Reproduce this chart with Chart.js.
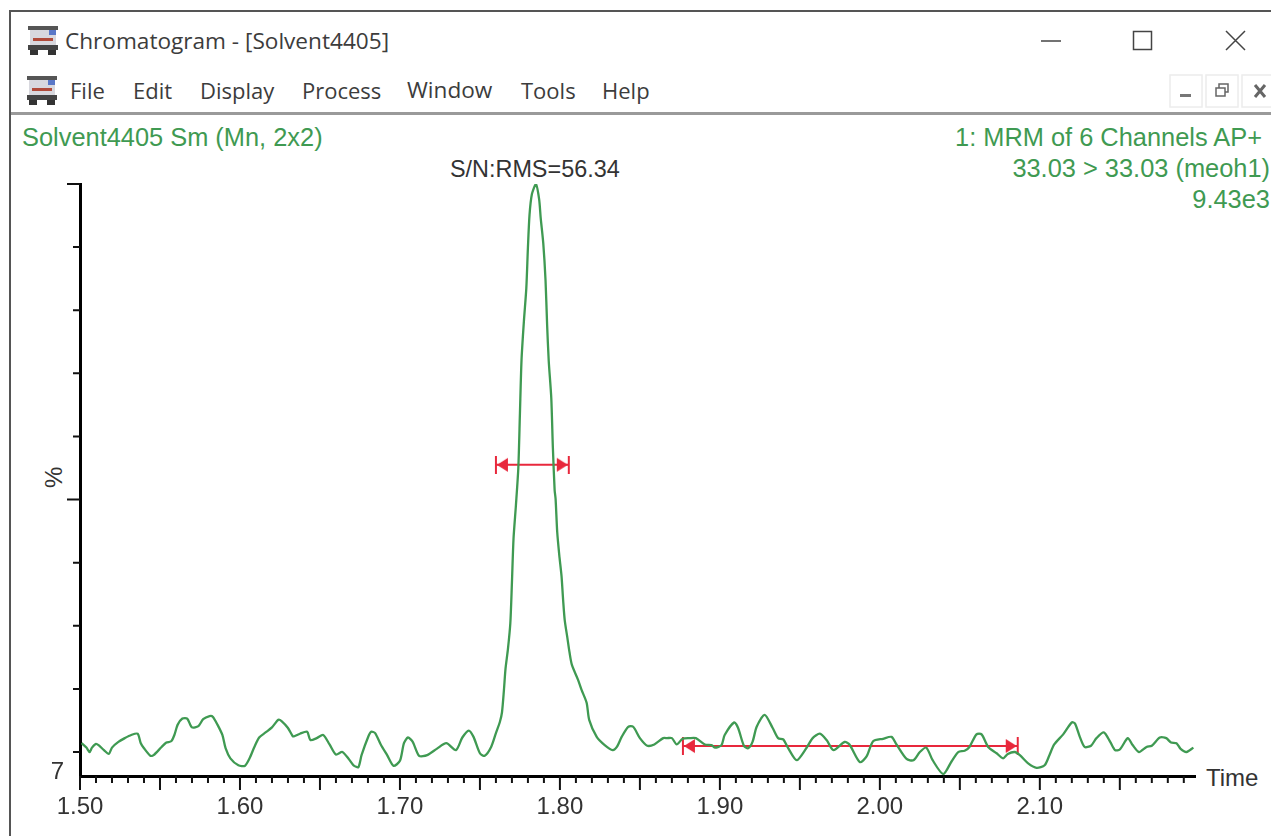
<!DOCTYPE html>
<html lang="en">
<head>
    <meta charset="UTF-8">
    <title>Chromatogram - [Solvent4405]</title>
    <style>
        html, body { margin: 0; padding: 0; background: #fff; }
        body { width: 1271px; height: 836px; position: relative; overflow: hidden; }
        #chart { position: absolute; left: 0; top: 0; }
        .line { position: absolute; }
        .txt { position: absolute; white-space: nowrap; line-height: 1; }
        .win { font-family: "Open Sans", sans-serif; color: #3c3c3c; }
        .plot { font-family: "Liberation Sans", Arial, sans-serif; font-size: 24px; }
        .head { font-size: 25.4px; }
        .green { color: #3f9a52; }
        .dark { color: #333; }
        svg { position: absolute; }
    </style>
</head>
<body>
    <div class="line" style="left:9px;top:10px;width:1262px;height:2px;background:#555"></div>
    <div class="line" style="left:9px;top:10px;width:2px;height:826px;background:#555"></div>
    <div class="line" style="left:11px;top:112px;width:1260px;height:3px;background:#9a9a9a"></div>

    <svg style="left:27px;top:25px" width="32" height="32" viewBox="0 0 32 32">
        <rect x="1" y="1" width="30" height="4" fill="#555"/>
        <rect x="3" y="5" width="26" height="15" fill="#d8d8de"/>
        <rect x="22" y="5" width="7" height="5" fill="#5a78c8"/>
        <rect x="6" y="13" width="20" height="3" fill="#b04a3a"/>
        <rect x="1" y="20" width="30" height="5" fill="#444"/>
        <rect x="3" y="25" width="8" height="5" fill="#333"/>
        <rect x="21" y="25" width="8" height="5" fill="#333"/>
    </svg>
    <svg style="left:26px;top:75px" width="32" height="32" viewBox="0 0 32 32">
        <rect x="1" y="1" width="30" height="4" fill="#555"/>
        <rect x="3" y="5" width="26" height="15" fill="#d8d8de"/>
        <rect x="22" y="5" width="7" height="5" fill="#5a78c8"/>
        <rect x="6" y="13" width="20" height="3" fill="#b04a3a"/>
        <rect x="1" y="20" width="30" height="5" fill="#444"/>
        <rect x="3" y="25" width="8" height="5" fill="#333"/>
        <rect x="21" y="25" width="8" height="5" fill="#333"/>
    </svg>

    <div class="txt win" style="left:65px;top:30px;font-size:22.6px">Chromatogram - [Solvent4405]</div>
    <div class="txt win" style="left:70px;top:79px;font-size:22px">File</div>
    <div class="txt win" style="left:133px;top:79px;font-size:22px">Edit</div>
    <div class="txt win" style="left:200px;top:79px;font-size:22px">Display</div>
    <div class="txt win" style="left:302px;top:79px;font-size:22px">Process</div>
    <div class="txt win" style="left:407px;top:79px;font-size:22.6px">Window</div>
    <div class="txt win" style="left:521px;top:79px;font-size:22px">Tools</div>
    <div class="txt win" style="left:602px;top:79px;font-size:22px">Help</div>

    <!-- window buttons -->
    <svg style="left:1030px;top:25px" width="230" height="32">
        <line x1="11" y1="16" x2="31" y2="16" stroke="#444" stroke-width="1.5"/>
        <rect x="103.5" y="6.5" width="18" height="18" fill="none" stroke="#444" stroke-width="1.5"/>
        <path d="M196 6 L215 25 M215 6 L196 25" stroke="#444" stroke-width="1.5"/>
    </svg>
    <svg style="left:1168px;top:74px" width="103" height="34">
        <g fill="none" stroke="#ececec" stroke-width="1.5">
            <rect x="2" y="1" width="32" height="32"/>
            <rect x="38" y="1" width="32" height="32"/>
            <rect x="74" y="1" width="32" height="32"/>
        </g>
        <rect x="12" y="20" width="11" height="3" fill="#777"/>
        <g fill="none" stroke="#666" stroke-width="1.5">
            <rect x="48" y="14" width="9" height="8"/>
            <path d="M51 14 V10 H60 V18 H57"/>
        </g>
        <path d="M87 11 L97 23 M97 11 L87 23" stroke="#666" stroke-width="3"/>
    </svg>

    <div class="txt plot head green" style="left:22px;top:125px">Solvent4405 Sm (Mn, 2x2)</div>
    <div class="txt plot head green" style="right:9px;top:125px">1: MRM of 6 Channels AP+</div>
    <div class="txt plot head green" style="right:1px;top:156px">33.03 &gt; 33.03 (meoh1)</div>
    <div class="txt plot head green" style="right:1px;top:187px">9.43e3</div>
    <div class="txt plot dark" style="left:450px;top:158px;font-size:23.4px">S/N:RMS=56.34</div>
    <div class="txt plot dark" style="left:42px;top:466px;transform-origin:0 0;transform:rotate(-90deg) translate(-22px,0)">%</div>
    <div class="txt plot dark" style="left:1206px;top:766px">Time</div>

    <canvas id="chart" width="1271" height="836"></canvas>

<script src="https://cdn.jsdelivr.net/npm/chart.js@4/dist/chart.umd.min.js"></script>
<script>
    // trace: retention time (min), intensity (%)
    const times = [
        1.501, 1.504, 1.506, 1.5075, 1.510, 1.512, 1.515, 1.518, 1.520, 1.524, 1.528, 1.532, 1.536, 1.538, 1.540, 1.544,
        1.546, 1.551, 1.554, 1.557, 1.559, 1.561, 1.564, 1.567, 1.570, 1.574, 1.577, 1.581, 1.583, 1.586, 1.589, 1.591,
        1.594, 1.599, 1.603, 1.606, 1.609, 1.612, 1.616, 1.620, 1.624, 1.626, 1.630, 1.633, 1.634, 1.6375, 1.642, 1.644,
        1.648, 1.652, 1.656, 1.660, 1.664, 1.668, 1.671, 1.674, 1.676, 1.680, 1.682, 1.6845, 1.688, 1.692, 1.696, 1.700,
        1.7025, 1.705, 1.708, 1.712, 1.717, 1.723, 1.729, 1.735, 1.739, 1.743, 1.746, 1.750, 1.753, 1.757, 1.760, 1.7625,
        1.7638, 1.765, 1.766, 1.7675, 1.769, 1.770, 1.771, 1.7725, 1.774, 1.775, 1.776, 1.7775, 1.779, 1.780, 1.781, 1.7825,
        1.785, 1.787, 1.788, 1.7896, 1.791, 1.792, 1.793, 1.7946, 1.7956, 1.7967, 1.7973, 1.7983, 1.7996, 1.801, 1.802, 1.803, 1.8046,
        1.806, 1.8075, 1.8114, 1.8136, 1.8167, 1.8183, 1.823, 1.828, 1.833, 1.8356, 1.8386, 1.8427, 1.8458, 1.850, 1.8546, 1.859, 1.8646,
        1.867, 1.870, 1.873, 1.8767, 1.881, 1.885, 1.8906, 1.8948, 1.897, 1.901, 1.903, 1.909, 1.9114, 1.915, 1.9177, 1.9204,
        1.923, 1.928, 1.933, 1.9364, 1.9396, 1.9427, 1.948, 1.954, 1.958, 1.9625, 1.9667, 1.971, 1.978, 1.981, 1.9875, 1.9917,
        1.9958, 2.002, 2.0073, 2.0104, 2.0167, 2.021, 2.025, 2.029, 2.033, 2.0396, 2.0448, 2.049, 2.053, 2.056, 2.0604, 2.0636,
        2.0677, 2.073, 2.077, 2.080, 2.0844, 2.0875, 2.0927, 2.098, 2.103, 2.106, 2.109, 2.1146, 2.120, 2.122, 2.125, 2.128,
        2.132, 2.1354, 2.140, 2.144, 2.147, 2.150, 2.155, 2.158, 2.162, 2.1667, 2.170, 2.175, 2.179, 2.182, 2.1854, 2.188,
        2.1917, 2.196
    ];
    const intensity = [
        11.4, 10.7, 10.0, 10.7, 11.3, 11.0, 10.3, 9.7, 10.7, 11.6, 12.2, 12.7, 12.9, 11.4, 10.6, 9.4,
        9.5, 10.8, 11.5, 11.7, 12.7, 14.3, 15.3, 15.3, 13.9, 14.1, 15.2, 15.7, 15.6, 14.3, 12.7, 10.6,
        9.0, 7.9, 7.8, 9.0, 10.8, 12.3, 13.1, 13.9, 15.1, 14.9, 13.8, 12.5, 12.5, 12.9, 13.2, 11.9,
        12.2, 12.7, 11.2, 9.6, 10.0, 8.9, 7.9, 7.6, 9.5, 12.3, 13.2, 13.0, 11.2, 9.5, 7.8, 8.6,
        11.4, 12.3, 11.6, 9.4, 9.5, 10.5, 11.4, 10.3, 12.3, 13.4, 12.4, 9.8, 9.4, 10.8, 13.0, 14.8,
        16.3, 19.8, 23.2, 26.3, 30.4, 36.8, 43.8, 49.1, 55.0, 63.6, 72.1, 78.3, 83.5, 89.9, 95.1, 98.4,
        100, 97.6, 94.6, 90.6, 84.8, 77.7, 72.0, 66.1, 58.2, 51.5, 50.1, 44.9, 41.2, 37.9, 34.1, 30.9, 28.2,
        25.8, 23.8, 21.4, 19.8, 17.8, 15.1, 12.4, 11.1, 10.3, 10.8, 12.4, 14.0, 14.0, 12.2, 11.0, 11.2, 12.2,
        12.2, 12.2, 11.2, 12.1, 12.2, 12.2, 11.2, 11.1, 10.7, 11.1, 12.7, 14.7, 13.8, 11.0, 10.6, 11.6,
        14.0, 15.9, 13.8, 12.2, 12.0, 10.6, 8.7, 10.6, 12.2, 12.9, 11.9, 10.3, 11.6, 11.2, 8.4, 9.3,
        11.7, 12.1, 12.4, 11.2, 8.9, 8.7, 10.0, 10.7, 8.7, 6.5, 8.5, 10.0, 10.2, 10.8, 12.8, 12.8,
        10.8, 9.8, 9.0, 9.7, 10.0, 9.5, 8.2, 7.5, 7.9, 9.5, 11.2, 12.8, 14.7, 14.5, 12.4, 10.8,
        11.0, 12.2, 13.1, 11.6, 10.3, 10.4, 12.2, 11.1, 10.0, 10.8, 11.0, 12.3, 12.2, 11.5, 11.4, 10.5,
        10.0, 10.7
    ];

    // red S/N markers: peak width and noise range
    const peakWidthTimes = [1.760, 1.8056];
    const peakWidthLevel = [55.5, 55.5];
    const noiseTimes = [1.8769, 2.0862];
    const noiseLevel = [10.95, 10.95];

    // axes
    const xMin = 1.50;
    const xMax = 2.197;
    const yMin = 6.2;
    const yMax = 100;
    const yBottomLabel = '7';
    const xLabelled = ['1.50', '1.60', '1.70', '1.80', '1.90', '2.00', '2.10'];
    const xLongTicks = [1.50, 1.55, 1.60, 1.65, 1.70, 1.75, 1.80, 1.85, 1.90, 1.95, 2.00, 2.05, 2.10, 2.15];
    const xShortTicks = [1.51, 1.52, 1.53, 1.54, 1.56, 1.57, 1.58, 1.59, 1.61, 1.62, 1.63, 1.64, 1.66, 1.67, 1.68, 1.69,
        1.71, 1.72, 1.73, 1.74, 1.76, 1.77, 1.78, 1.79, 1.81, 1.82, 1.83, 1.84, 1.86, 1.87, 1.88, 1.89,
        1.91, 1.92, 1.93, 1.94, 1.96, 1.97, 1.98, 1.99, 2.01, 2.02, 2.03, 2.04, 2.06, 2.07, 2.08, 2.09,
        2.11, 2.12, 2.13, 2.14, 2.16, 2.17, 2.18, 2.19];
    const yLongTicks = [100, 50];
    const yShortTicks = [90, 80, 70, 60, 40, 30, 20, 10];

    const toXY = (xs, ys) => xs.map((v, i) => ({ x: v, y: ys[i] }));
    const sameTick = (a, b) => Math.abs(a - b) < 0.001;

    // bar with arrowhead, used as the point marker at both ends of a range
    const marker = document.createElement('canvas');
    marker.width = 28;
    marker.height = 18;
    const mc = marker.getContext('2d');
    mc.fillStyle = '#e8283c';
    mc.fillRect(13, 0, 2, 18);
    mc.beginPath();
    mc.moveTo(15, 9);
    mc.lineTo(26, 2);
    mc.lineTo(26, 16);
    mc.closePath();
    mc.fill();

    const rangeSet = (xs, ys) => ({
        data: toXY(xs, ys),
        borderColor: '#e8283c',
        borderWidth: 2,
        pointStyle: marker,
        pointRadius: 9,
        pointRotation: [0, 180]
    });

    // axis ticks come in two lengths, chart.js only has one per scale
    const tickPlugin = {
        id: 'tickMarks',
        afterDatasetsDraw(chart) {
            const { ctx, scales: { x, y }, chartArea: area } = chart;
            ctx.save();
            ctx.strokeStyle = '#111';
            ctx.lineWidth = 2;
            ctx.beginPath();
            xLongTicks.forEach((v) => {
                ctx.moveTo(x.getPixelForValue(v), area.bottom);
                ctx.lineTo(x.getPixelForValue(v), area.bottom + 14);
            });
            xShortTicks.forEach((v) => {
                ctx.moveTo(x.getPixelForValue(v), area.bottom);
                ctx.lineTo(x.getPixelForValue(v), area.bottom + 7);
            });
            yLongTicks.forEach((v) => {
                ctx.moveTo(area.left, y.getPixelForValue(v));
                ctx.lineTo(area.left - 13, y.getPixelForValue(v));
            });
            yShortTicks.forEach((v) => {
                ctx.moveTo(area.left, y.getPixelForValue(v));
                ctx.lineTo(area.left - 7, y.getPixelForValue(v));
            });
            ctx.stroke();
            ctx.restore();
        }
    };

    new Chart(document.querySelector('#chart'), {
        type: 'line',
        data: {
            datasets: [
                {
                    data: toXY(times, intensity),
                    borderColor: '#3f9a52',
                    borderWidth: 2.3,
                    pointRadius: 0,
                    tension: 0.25
                },
                rangeSet(peakWidthTimes, peakWidthLevel),
                rangeSet(noiseTimes, noiseLevel)
            ]
        },
        options: {
            responsive: false,
            animation: false,
            layout: { padding: { top: 184, right: 76, left: 0, bottom: 0 } },
            plugins: { legend: { display: false }, tooltip: { enabled: false } },
            scales: {
                x: {
                    type: 'linear',
                    min: xMin,
                    max: xMax,
                    afterFit: (s) => { s.height = 60; },
                    afterBuildTicks: (s) => { s.ticks = xLabelled.map((v) => ({ value: Number(v) })); },
                    border: { color: '#000', width: 3 },
                    grid: { drawOnChartArea: false, drawTicks: false },
                    ticks: {
                        autoSkip: false,
                        maxRotation: 0,
                        padding: 17,
                        color: '#333',
                        font: { family: '"Liberation Sans"', size: 24 },
                        callback: (v) => xLabelled.find((t) => sameTick(Number(t), v)) || ''
                    }
                },
                y: {
                    min: yMin,
                    max: yMax,
                    afterFit: (s) => { s.width = 80; },
                    afterBuildTicks: (s) => { s.ticks = [{ value: yMin }]; },
                    border: { color: '#000', width: 3 },
                    grid: { drawOnChartArea: false, drawTicks: false },
                    ticks: {
                        padding: 16,
                        labelOffset: -4,
                        color: '#333',
                        font: { family: '"Liberation Sans"', size: 24 },
                        callback: () => yBottomLabel
                    }
                }
            }
        },
        plugins: [tickPlugin]
    });
</script>
</body>
</html>
